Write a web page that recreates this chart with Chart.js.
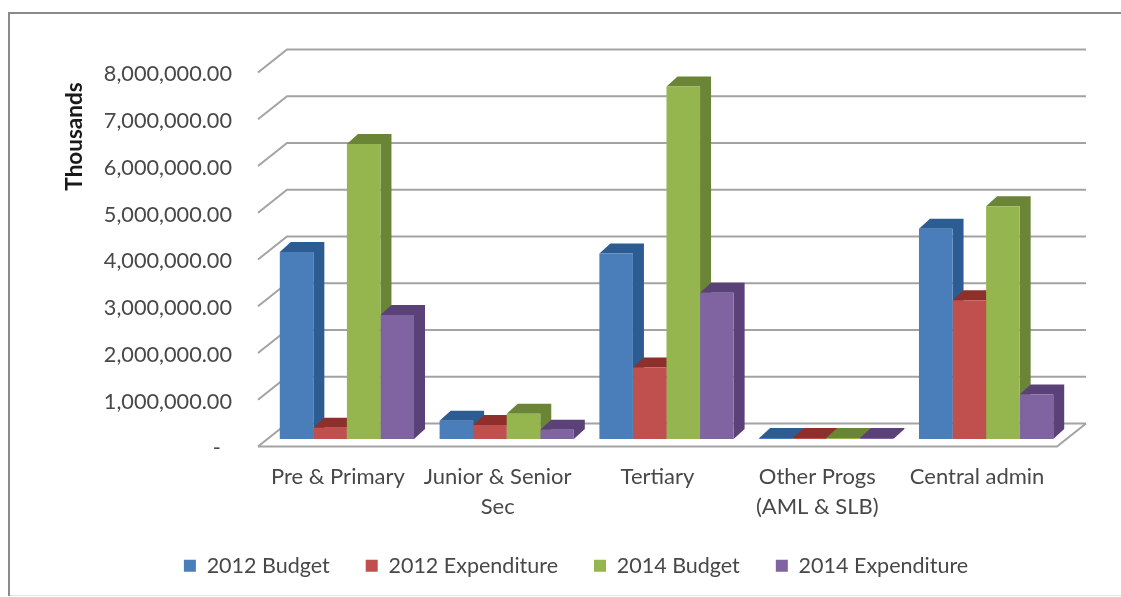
<!DOCTYPE html>
<html>
<head>
<meta charset="utf-8">
<script src="https://cdn.jsdelivr.net/npm/chart.js@4"></script>
<style>
  html, body { margin: 0; background: #fff; }
  #frame { position: absolute; left: 8px; top: 12px; right: 0; height: 584px; border: solid #8a8a8a; border-width: 2px 0 0 2px; box-sizing: border-box; }
  #foot { position: absolute; left: 10px; right: 0; top: 595px; height: 1px; background: #e4e4e4; }
  canvas { position: absolute; left: 0; top: 0; }
</style>
</head>
<body>
<div id="frame"></div>
<div id="foot"></div>
<canvas id="chart" width="1121" height="597"></canvas>
<script>
// values
const categories = ['Pre & Primary', ['Junior & Senior', 'Sec'], 'Tertiary', ['Other Progs', '(AML & SLB)'], 'Central admin'];
const budget2012 = [4000000, 390000, 3970000, 20000, 4500000];
const expenditure2012 = [240000, 300000, 1530000, 20000, 2970000];
const budget2014 = [6310000, 540000, 7540000, 20000, 4980000];
const expenditure2014 = [2650000, 200000, 3130000, 20000, 950000];
const yTickLabels = ['-  ', '1,000,000.00', '2,000,000.00', '3,000,000.00', '4,000,000.00', '5,000,000.00', '6,000,000.00', '7,000,000.00', '8,000,000.00'];

const textColor = '#484848';
const fontFamily = 'Lato, "Open Sans", sans-serif';

const sideColors = ['#2c5c92', '#8e2f2c', '#6b8537', '#5a4279'];

// floor + back wall, bars sit part way into the depth
const wall = { dx: 29, dy: -23 };
const barShift = { dx: 9, dy: -7.5 };
const barDepth = { dx: 11, dy: -10 };

const fake3d = {
  id: 'fake3d',
  beforeDatasetsDraw(chart) {
    const { ctx, chartArea, scales } = chart;
    const { left, right, bottom } = chartArea;

    ctx.save();
    ctx.strokeStyle = '#a3a3a3';
    ctx.lineWidth = 2;
    scales.y.ticks.forEach(t => {
      const y = scales.y.getPixelForValue(t.value);
      ctx.beginPath();
      ctx.moveTo(left, y);
      ctx.lineTo(left + wall.dx, y + wall.dy);
      ctx.lineTo(right + wall.dx, y + wall.dy);
      ctx.stroke();
    });
    // front and right edge of the floor
    ctx.beginPath();
    ctx.moveTo(left, bottom);
    ctx.lineTo(right, bottom);
    ctx.lineTo(right + wall.dx, bottom + wall.dy);
    ctx.stroke();
    ctx.restore();

    ctx.save();
    ctx.translate(barShift.dx, barShift.dy);
    chart.data.datasets.forEach((ds, i) => {
      ctx.fillStyle = sideColors[i];
      chart.getDatasetMeta(i).data.forEach(bar => {
        const x1 = bar.x - bar.width / 2;
        const x2 = bar.x + bar.width / 2;
        ctx.beginPath();
        ctx.moveTo(x1, bar.y);
        ctx.lineTo(x1 + barDepth.dx, bar.y + barDepth.dy);
        ctx.lineTo(x2 + barDepth.dx, bar.y + barDepth.dy);
        ctx.lineTo(x2 + barDepth.dx, bar.base + barDepth.dy);
        ctx.lineTo(x2, bar.base);
        ctx.lineTo(x2, bar.y);
        ctx.closePath();
        ctx.fill();
      });
    });
  },
  afterDatasetsDraw(chart) {
    chart.ctx.restore();
  },
  afterDraw(chart) {
    const ctx = chart.ctx;
    ctx.save();
    ctx.translate(75, 136.5);
    ctx.rotate(-Math.PI / 2);
    ctx.font = 'bold 22.5px ' + fontFamily;
    ctx.fillStyle = '#1a1a1a';
    ctx.textAlign = 'center';
    ctx.textBaseline = 'middle';
    ctx.fillText('Thousands', 0, 0);
    ctx.restore();
  }
};

new Chart(document.getElementById('chart'), {
  type: 'bar',
  data: {
    labels: categories,
    datasets: [
      { label: '2012 Budget', data: budget2012, backgroundColor: '#4a7ebb', clip: false },
      { label: '2012 Expenditure', data: expenditure2012, backgroundColor: '#c0504d', clip: false },
      { label: '2014 Budget', data: budget2014, backgroundColor: '#95b64f', clip: false },
      { label: '2014 Expenditure', data: expenditure2014, backgroundColor: '#8064a2', clip: false }
    ]
  },
  options: {
    responsive: false,
    animation: false,
    layout: { padding: { left: 95, right: 64, top: 72.5, bottom: 10.5 } },
    categoryPercentage: 0.84,
    barPercentage: 1,
    plugins: {
      tooltip: { enabled: false },
      legend: {
        position: 'bottom',
        labels: {
          boxWidth: 12,
          boxHeight: 12,
          padding: 36,
          color: textColor,
          font: { family: fontFamily, size: 21.5 }
        }
      }
    },
    scales: {
      x: {
        grid: { display: false },
        border: { display: false },
        afterFit(scale) { scale.height = 72.5; },
        ticks: {
          padding: 7.5,
          maxRotation: 0,
          autoSkip: false,
          color: textColor,
          font: { family: fontFamily, size: 22, lineHeight: 1.36 }
        }
      },
      y: {
        min: 0,
        max: 8000000,
        grid: { display: false, drawTicks: false },
        border: { display: false },
        afterFit(scale) { scale.width = 163; },
        ticks: {
          stepSize: 1000000,
          padding: 26,
          labelOffset: 2,
          color: textColor,
          font: { family: fontFamily, size: 21.7 },
          callback: (v, i) => yTickLabels[i]
        }
      }
    }
  },
  plugins: [fake3d]
});
</script>
</body>
</html>
